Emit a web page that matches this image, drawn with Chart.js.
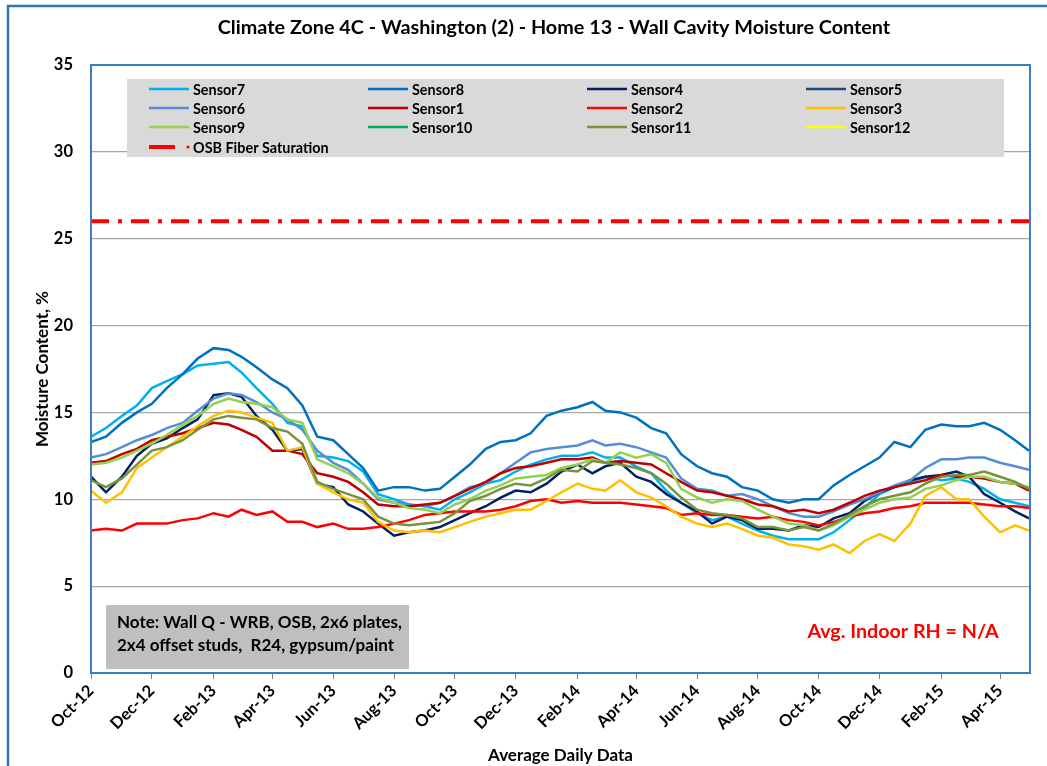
<!DOCTYPE html>
<html>
<head>
<meta charset="utf-8">
<script src="https://cdn.jsdelivr.net/npm/chart.js@4"></script>
<style>
  html, body { margin: 0; padding: 0; background: #fff; }
  #wrap { width: 1047px; height: 766px; }
</style>
</head>
<body>
<div id="wrap"><canvas id="moisture" width="1047" height="766"></canvas></div>
<script>
// sample dates (about twice a month)
var dates = ['2012-10-01','2012-10-16','2012-11-01','2012-11-16','2012-12-01','2012-12-16',
  '2013-01-01','2013-01-16','2013-02-01','2013-02-16','2013-03-01','2013-03-16','2013-04-01','2013-04-16',
  '2013-05-01','2013-05-16','2013-06-01','2013-06-16','2013-07-01','2013-07-16','2013-08-01','2013-08-16',
  '2013-09-01','2013-09-16','2013-10-01','2013-10-16','2013-11-01','2013-11-16','2013-12-01','2013-12-16',
  '2014-01-01','2014-01-16','2014-02-01','2014-02-16','2014-03-01','2014-03-16','2014-04-01','2014-04-16',
  '2014-05-01','2014-05-16','2014-06-01','2014-06-16','2014-07-01','2014-07-16','2014-08-01','2014-08-16',
  '2014-09-01','2014-09-16','2014-10-01','2014-10-16','2014-11-01','2014-11-16','2014-12-01','2014-12-16',
  '2015-01-01','2015-01-16','2015-02-01','2015-02-16','2015-03-01','2015-03-16','2015-04-01','2015-04-16','2015-04-30'];

var sensor7 = [13.6,14.1,14.8,15.4,16.4,16.8,17.2,17.7,17.8,17.9,17.3,16.4,15.5,14.4,14.2,12.5,12.4,12.2,11.6,10.3,
  10.0,9.7,9.6,9.4,10.0,10.4,10.9,11.1,11.6,12.0,12.3,12.5,12.5,12.7,12.4,12.4,11.9,11.5,10.5,9.8,
  9.2,8.8,9.0,8.6,8.2,7.9,7.7,7.7,7.7,8.1,8.8,9.5,10.3,10.7,11.0,11.3,11.1,11.2,11.0,10.6,10.0,9.8,9.6];
var sensor8 = [13.3,13.6,14.4,15.0,15.5,16.4,17.2,18.1,18.7,18.6,18.2,17.6,16.9,16.4,15.4,13.6,13.4,12.6,11.8,10.5,
  10.7,10.7,10.5,10.6,11.3,12.0,12.9,13.3,13.4,13.8,14.8,15.1,15.3,15.6,15.1,15.0,14.7,14.1,13.8,12.6,
  11.9,11.5,11.3,10.7,10.5,10.0,9.8,10.0,10.0,10.8,11.4,11.9,12.4,13.3,13.0,14.0,14.3,14.2,14.2,14.4,14.0,13.4,12.8];
var sensor4 = [11.3,10.4,11.3,12.5,13.2,13.5,14.1,14.6,16.0,16.1,15.9,14.8,14.0,12.8,12.9,10.9,10.7,9.7,9.3,8.6,
  7.9,8.1,8.2,8.4,8.8,9.2,9.6,10.1,10.5,10.4,10.9,11.6,12.0,11.5,11.9,12.1,11.3,11.0,10.3,9.8,
  9.3,8.6,9.0,8.8,8.3,8.3,8.2,8.5,8.4,8.9,9.2,9.9,10.4,10.7,11.1,11.3,11.4,11.6,11.3,10.3,9.8,9.3,8.9];
var sensor5 = [];
var sensor6 = [12.4,12.6,13.0,13.4,13.7,14.1,14.4,15.1,15.8,16.1,16.0,15.6,15.0,14.6,14.0,12.8,12.1,11.7,10.9,10.0,
  9.8,9.7,9.6,9.8,10.2,10.7,10.9,11.5,12.1,12.7,12.9,13.0,13.1,13.4,13.1,13.2,13.0,12.7,12.4,11.2,
  10.6,10.5,10.2,10.3,10.0,9.6,9.2,9.0,9.0,9.3,9.7,10.0,10.4,10.8,11.1,11.8,12.3,12.3,12.4,12.4,12.1,11.9,11.7];
var sensor1 = [12.1,12.2,12.6,12.9,13.4,13.6,13.8,14.1,14.4,14.3,14.0,13.6,12.8,12.8,12.6,11.5,11.3,11.0,10.4,9.7,
  9.6,9.6,9.7,9.8,10.2,10.6,11.0,11.5,11.8,11.9,12.1,12.3,12.3,12.4,12.1,12.2,12.1,12.0,11.5,11.0,
  10.5,10.4,10.2,10.0,9.7,9.6,9.3,9.4,9.2,9.4,9.8,10.2,10.5,10.7,10.9,11.1,11.4,11.3,11.3,11.2,11.0,10.9,10.5];
var sensor2 = [8.2,8.3,8.2,8.6,8.6,8.6,8.8,8.9,9.2,9.0,9.4,9.1,9.3,8.7,8.7,8.4,8.6,8.3,8.3,8.4,
  8.6,8.8,9.1,9.2,9.3,9.3,9.3,9.4,9.6,9.9,10.0,9.8,9.9,9.8,9.8,9.8,9.7,9.6,9.5,9.1,
  9.2,9.1,9.1,9.0,8.9,9.0,8.8,8.7,8.5,8.7,9.0,9.2,9.3,9.5,9.6,9.8,9.8,9.8,9.8,9.7,9.6,9.6,9.5];
var sensor3 = [10.5,9.8,10.4,11.8,12.4,13.0,13.6,14.2,14.8,15.1,15.0,14.7,14.4,12.8,13.0,10.9,10.4,10.0,9.8,8.7,
  8.2,8.1,8.2,8.1,8.4,8.7,9.0,9.2,9.4,9.4,9.9,10.4,10.9,10.6,10.5,11.1,10.4,10.1,9.6,9.0,
  8.6,8.4,8.6,8.3,7.9,7.8,7.4,7.3,7.1,7.4,6.9,7.6,8.0,7.6,8.6,10.2,10.7,10.0,10.0,9.0,8.1,8.5,8.2];
var sensor9 = [12.0,12.1,12.4,12.8,13.2,13.7,14.3,14.8,15.5,15.8,15.6,15.5,15.3,14.6,14.4,12.3,11.9,11.5,10.9,10.1,
  9.8,9.5,9.4,9.2,9.7,10.0,10.5,10.8,11.2,11.3,11.4,11.8,12.0,12.3,12.1,12.7,12.4,12.6,12.1,10.6,
  10.1,9.8,10.0,9.9,9.4,9.0,8.6,8.5,8.2,8.5,9.0,9.4,9.8,10.0,10.1,10.6,10.8,11.1,11.3,11.3,11.0,10.9,10.7];
var sensor10 = [];
var sensor11 = [11.1,10.7,11.2,12.0,12.8,13.0,13.4,14.0,14.6,14.8,14.7,14.6,14.1,13.9,13.2,11.0,10.6,10.3,10.0,9.0,
  8.6,8.5,8.6,8.7,9.2,9.9,10.2,10.6,10.9,10.8,11.2,11.7,11.6,12.2,12.1,12.0,11.8,11.5,10.9,10.1,
  9.4,9.2,9.1,8.9,8.4,8.4,8.2,8.4,8.2,8.6,9.1,9.6,10.0,10.2,10.4,10.9,11.3,11.4,11.4,11.6,11.3,11.0,10.6];
var sensor12 = [];

var osbDates = ['2012-10-01', '2015-04-30'];
var osbSaturation = [26, 26];

var tickDates = ['2012-10-01','2012-12-01','2013-02-01','2013-04-01','2013-06-01','2013-08-01','2013-10-01','2013-12-01',
  '2014-02-01','2014-04-01','2014-06-01','2014-08-01','2014-10-01','2014-12-01','2015-02-01','2015-04-01'];
var tickLabels = ['Oct-12','Dec-12','Feb-13','Apr-13','Jun-13','Aug-13','Oct-13','Dec-13',
  'Feb-14','Apr-14','Jun-14','Aug-14','Oct-14','Dec-14','Feb-15','Apr-15'];

var FONT = 'Lato, "Liberation Sans", sans-serif';
var START = Date.UTC(2012, 9, 1);
function dayOf(s) {
  var p = s.split('-');
  return (Date.UTC(+p[0], +p[1] - 1, +p[2]) - START) / 86400000;
}
function pts(ds, vals) {
  return vals.map(function (v, i) { return { x: dayOf(ds[i]), y: v }; });
}

var series = [
  ['Sensor7', '#00B0F0', sensor7],
  ['Sensor8', '#0070C0', sensor8],
  ['Sensor4', '#002060', sensor4],
  ['Sensor5', '#1F497D', sensor5],
  ['Sensor6', '#558ED5', sensor6],
  ['Sensor1', '#C00000', sensor1],
  ['Sensor2', '#FF0000', sensor2],
  ['Sensor3', '#FFC000', sensor3],
  ['Sensor9', '#92D050', sensor9],
  ['Sensor10', '#00B050', sensor10],
  ['Sensor11', '#77933C', sensor11],
  ['Sensor12', '#FFFF00', sensor12]
];

var datasets = series.map(function (s, i) {
  return {
    label: s[0],
    data: pts(dates, s[2]),
    borderColor: s[1],
    backgroundColor: s[1],
    borderWidth: 2.5,
    pointRadius: 0,
    tension: 0,
    order: 100 - i
  };
});
datasets.push({
  label: 'OSB Fiber Saturation',
  data: pts(osbDates, osbSaturation),
  borderColor: '#FF0000',
  backgroundColor: '#FF0000',
  borderWidth: 4,
  borderDash: [18, 9, 4, 9],
  pointRadius: 0,
  order: 0
});

var tickDays = tickDates.map(dayOf);

// frame, title, legend box, note and RH label
var decorations = {
  id: 'decorations',
  beforeDraw: function (chart) {
    var c = chart.ctx;
    c.save();
    c.fillStyle = '#fff';
    c.fillRect(0, 0, chart.width, chart.height);
    c.strokeStyle = '#2E75B6';
    c.lineWidth = 2.5;
    c.strokeRect(8, 6, 1060, 800);
    c.restore();
  },
  afterDatasetsDraw: function (chart) {
    var c = chart.ctx, a = chart.chartArea;
    c.save();
    // legend
    c.fillStyle = '#D9D9D9';
    c.fillRect(127, 79, 877, 78);
    var colX = [149, 368, 587, 806];
    var rowY = [89, 108, 127, 147];
    c.font = 'bold 14.4px ' + FONT;
    c.textBaseline = 'middle';
    chart.data.datasets.forEach(function (ds, i) {
      var x = colX[i % 4], y = rowY[Math.floor(i / 4)];
      if (ds.label === 'OSB Fiber Saturation') {
        c.strokeStyle = ds.borderColor;
        c.lineWidth = 4;
        c.beginPath(); c.moveTo(x, y); c.lineTo(x + 26, y); c.stroke();
        c.fillStyle = ds.borderColor;
        c.beginPath(); c.arc(x + 39, y, 1.6, 0, Math.PI * 2); c.fill();
      } else {
        c.strokeStyle = ds.borderColor;
        c.lineWidth = 2.5;
        c.beginPath(); c.moveTo(x, y); c.lineTo(x + 40, y); c.stroke();
      }
      c.fillStyle = '#000';
      c.fillText(ds.label, x + 44, y + 1);
    });
    // note box
    c.fillStyle = '#BFBFBF';
    c.fillRect(106, 605, 303, 64);
    c.fillStyle = '#000';
    c.font = 'bold 17px ' + FONT;
    c.textAlign = 'left';
    c.fillText('Note: Wall Q - WRB, OSB, 2x6 plates,', 117, 623);
    c.fillText('2x4 offset studs,  R24, gypsum/paint', 117, 646);
    // RH label
    c.fillStyle = '#FF0000';
    c.font = 'bold 19.7px ' + FONT;
    c.textAlign = 'center';
    c.fillText('Avg. Indoor RH = N/A', 903, 632);
    // plot border
    c.strokeStyle = '#3A7DC0';
    c.lineWidth = 2;
    c.strokeRect(a.left, a.top, a.right - a.left, a.bottom - a.top);
    c.restore();
  },
  afterDraw: function (chart) {
    var c = chart.ctx;
    c.save();
    c.fillStyle = '#000';
    c.font = 'bold 19.8px ' + FONT;
    c.textAlign = 'center';
    c.textBaseline = 'middle';
    c.fillText('Climate Zone 4C - Washington (2) - Home 13 - Wall Cavity Moisture Content', 554, 28);
    c.restore();
  }
};

new Chart(document.getElementById('moisture'), {
  type: 'line',
  data: { datasets: datasets },
  plugins: [decorations],
  options: {
    responsive: false,
    animation: false,
    layout: { padding: { left: 32, right: 17, top: 65, bottom: 0 } },
    plugins: {
      legend: { display: false },
      title: { display: false },
      tooltip: { enabled: false }
    },
    scales: {
      x: {
        type: 'linear',
        min: 0,
        max: dayOf('2015-05-01'),
        afterFit: function (s) { s.height = 93; },
        afterBuildTicks: function (s) {
          s.ticks = tickDays.map(function (d) { return { value: d }; });
        },
        grid: { drawOnChartArea: false, drawTicks: true, tickLength: 6, color: '#808080' },
        border: { color: '#6C9CC8', width: 2 },
        ticks: {
          autoSkip: false,
          minRotation: 45,
          maxRotation: 45,
          padding: 2,
          color: '#000',
          font: { family: FONT, size: 16.5, weight: 'bold' },
          callback: function (v) {
            var i = tickDays.indexOf(v);
            return i >= 0 ? tickLabels[i] : '';
          }
        },
        title: {
          display: true,
          text: 'Average Daily Data',
          color: '#000',
          font: { family: FONT, size: 17, weight: 'bold' },
          padding: { top: 0, bottom: 0 }
        }
      },
      y: {
        min: 0,
        max: 35,
        afterFit: function (s) { s.width = 59; },
        grid: { color: '#A6A6A6', lineWidth: 1.2, drawTicks: false },
        border: { color: '#6C9CC8', width: 2 },
        ticks: {
          stepSize: 5,
          padding: 18,
          color: '#000',
          font: { family: FONT, size: 16.5, weight: 'bold' }
        },
        title: {
          display: true,
          text: 'Moisture Content, %',
          color: '#000',
          font: { family: FONT, size: 17, weight: 'bold' },
          padding: { top: 0, bottom: 0 }
        }
      }
    }
  }
});
</script>
</body>
</html>
